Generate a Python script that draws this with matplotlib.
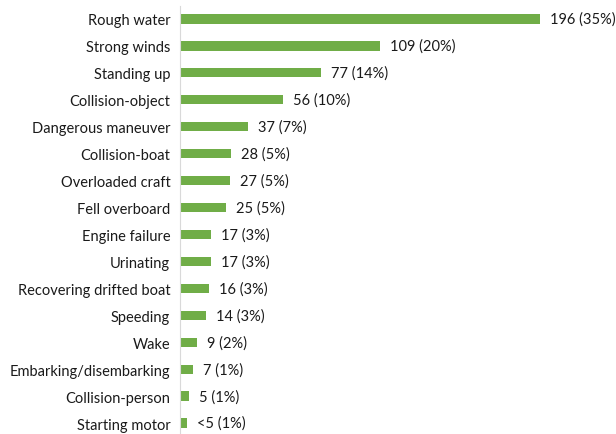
import matplotlib.pyplot as plt

plt.rcParams['font.family'] = ['Lato', 'DejaVu Sans']

causas = ['Rough water', 'Strong winds', 'Standing up', 'Collision-object',
          'Dangerous maneuver', 'Collision-boat', 'Overloaded craft', 'Fell overboard',
          'Engine failure', 'Urinating', 'Recovering drifted boat', 'Speeding',
          'Wake', 'Embarking/disembarking', 'Collision-person', 'Starting motor']
valores = [196, 109, 77, 56, 37, 28, 27, 25, 17, 17, 16, 14, 9, 7, 5, 4]
etiquetas = ['196 (35%)', '109 (20%)', '77 (14%)', '56 (10%)', '37 (7%)', '28 (5%)',
             '27 (5%)', '25 (5%)', '17 (3%)', '17 (3%)', '16 (3%)', '14 (3%)',
             '9 (2%)', '7 (1%)', '5 (1%)', '<5 (1%)']

W, H = 616, 435
fig = plt.figure(figsize=(W / 100, H / 100), dpi=100)
ax = fig.add_axes([180 / W, -2.5 / H, 436 / W, 431 / H])

y = list(range(len(causas)))
ax.barh(y, valores, height=0.345, color='#70AD47')
for yi, v, t in zip(y, valores, etiquetas):
    ax.text(v + 5.5, yi, t, va='center', ha='left', fontsize=10.5, color='#1a1a1a')

ax.set_xlim(0, 237.6)
ax.set_ylim(len(causas) - 0.5, -0.5)
ax.set_yticks(y)
ax.set_yticklabels(causas, fontsize=10.5, color='#1a1a1a')
ax.tick_params(axis='y', length=0, pad=7)
ax.set_xticks([])
for s in ['top', 'right', 'bottom']:
    ax.spines[s].set_visible(False)
ax.spines['left'].set_color('#d9d9d9')

fig.savefig('out.png', dpi=100)
